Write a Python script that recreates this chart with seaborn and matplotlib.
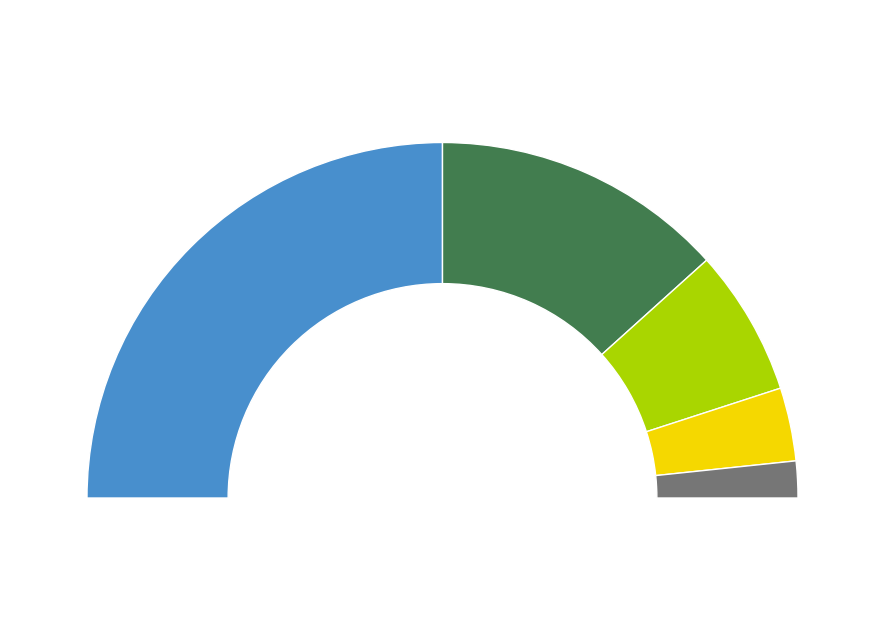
import matplotlib
matplotlib.use("Agg")
import matplotlib.pyplot as plt
import seaborn as sns

# seat shares of the half donut (top half only)
parties = ["A", "B", "C", "D", "E"]
seats = [90, 48, 24, 12, 6]
colors = ["#488FCD", "#427D4F", "#A9D600", "#F5D800", "#767676"]

sns.set_theme(style="white")

fig = plt.figure(figsize=(8.84, 6.4), dpi=100)
ax = fig.add_axes([0, 0, 1, 1])

# hidden wedge makes the lower half of the circle
values = seats + [sum(seats)]
wedges, _ = ax.pie(values, colors=colors + ["white"], startangle=180,
                   counterclock=False, radius=1.0,
                   wedgeprops=dict(width=0.397, edgecolor="white", linewidth=1))
wedges[-1].set_visible(False)

R = 355.5
ax.set_xlim(-442.5 / R, 441.5 / R)
ax.set_ylim(-142 / R, 498 / R)
ax.set_aspect("equal")
ax.axis("off")

fig.savefig("out.png", dpi=100, facecolor="white")
